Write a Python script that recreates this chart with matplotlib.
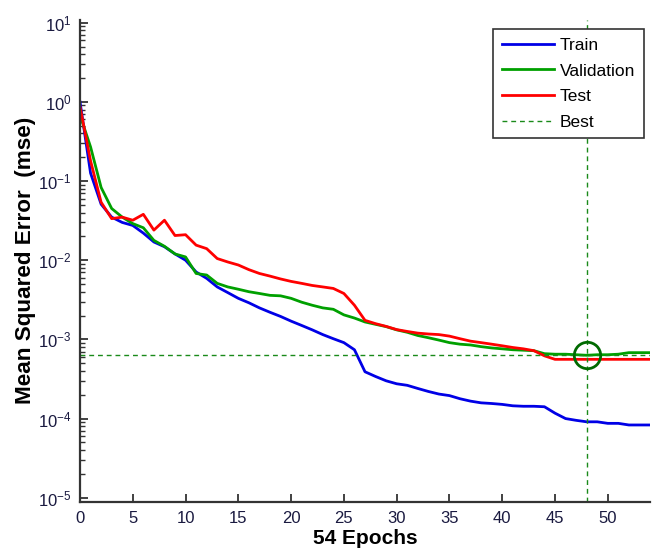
import numpy as np
import matplotlib
matplotlib.use('Agg')
import matplotlib.pyplot as plt
from matplotlib.ticker import FixedLocator, LogFormatterMathtext, NullFormatter

plt.rcParams['font.family'] = 'Liberation Sans'
plt.rcParams['mathtext.fontset'] = 'custom'
plt.rcParams['mathtext.rm'] = 'Liberation Sans'
plt.rcParams['mathtext.it'] = 'Liberation Sans:italic'
plt.rcParams['mathtext.default'] = 'regular'

# Curvas de rendimiento (mse) por época
epochs = list(range(55))

train_mse = [1.0, 0.126, 0.051, 0.035, 0.030, 0.0275, 0.022, 0.017, 0.0148, 0.012,
             0.010, 0.0071, 0.0059, 0.0046, 0.0039, 0.0033, 0.0029, 0.0025, 0.0022, 0.00195,
             0.0017, 0.0015, 0.00132, 0.00115, 0.00102, 0.00091, 0.00074, 0.00039, 0.00034, 0.00030,
             0.000275, 0.000263, 0.00024, 0.00022, 0.000204, 0.000195, 0.000178, 0.000166, 0.000158, 0.000155,
             0.000151, 0.000145, 0.000143, 0.000143, 0.000141, 0.000117, 0.0001, 0.000095, 0.000091, 0.000091,
             0.000087, 0.000087, 0.000083, 0.000083, 0.000083]

val_mse = [0.68, 0.27, 0.083, 0.045, 0.035, 0.029, 0.0257, 0.0178, 0.015, 0.012,
           0.011, 0.0068, 0.0065, 0.0051, 0.0046, 0.0043, 0.0040, 0.0038, 0.0036, 0.00355,
           0.0033, 0.00295, 0.0027, 0.0025, 0.0024, 0.00204, 0.00186, 0.00166, 0.00155, 0.00145,
           0.00132, 0.00123, 0.00112, 0.00105, 0.00098, 0.00091, 0.00087, 0.00085, 0.00081, 0.00078,
           0.00076, 0.00074, 0.00073, 0.00072, 0.00066, 0.00065, 0.00065, 0.00064, 0.00063, 0.00064,
           0.00064, 0.00065, 0.00068, 0.00068, 0.00068]

test_mse = [0.87, 0.18, 0.054, 0.0335, 0.035, 0.032, 0.038, 0.024, 0.032, 0.0205,
            0.021, 0.0155, 0.014, 0.0105, 0.0095, 0.0087, 0.0076, 0.0068, 0.0063, 0.0058,
            0.0054, 0.0051, 0.0048, 0.0046, 0.0044, 0.0038, 0.0027, 0.00174, 0.00158, 0.00146,
            0.00133, 0.00126, 0.0012, 0.00117, 0.00115, 0.0011, 0.00102, 0.00095, 0.00091, 0.00087,
            0.00083, 0.00079, 0.00076, 0.00072, 0.00062, 0.00056, 0.00056, 0.00056, 0.00056, 0.00056,
            0.00056, 0.00056, 0.00056, 0.00056, 0.00056]

best_epoch = 48
best_perf = 0.00063
x_ticks = [0, 5, 10, 15, 20, 25, 30, 35, 40, 45, 50]
y_decades = [-5, -4, -3, -2, -1, 0, 1]

fig = plt.figure(figsize=(6.57, 5.58), dpi=100)
ax = fig.add_axes([80/657, 1 - 501.7/558, 570/657, 481.7/558])

ax.plot(epochs, train_mse, color='#0000e6', lw=2, label='Train')
ax.plot(epochs, val_mse, color='#00a000', lw=2, label='Validation')
ax.plot(epochs, test_mse, color='#ff0000', lw=2, label='Test')
ax.axhline(best_perf, color='#1a8a1a', lw=1, dashes=(3.5, 2.8), label='Best')
ax.axvline(best_epoch, color='#1a8a1a', lw=1, dashes=(3.5, 2.8))
ax.plot(best_epoch, best_perf, 'o', ms=19, mfc='none', mec='#006a00', mew=2)

ax.set_yscale('log')
ax.set_xlim(0, 54)
ax.set_ylim(10**-5.05, 10**1.034)
ax.set_xticks(x_ticks)
# ticks solo dentro del rango visible
ax.yaxis.set_major_locator(FixedLocator([10.0**k for k in y_decades]))
ax.yaxis.set_major_formatter(LogFormatterMathtext())
ax.yaxis.set_minor_locator(FixedLocator([m * 10.0**k for k in y_decades[:-1] for m in range(2, 10)]))
ax.yaxis.set_minor_formatter(NullFormatter())

for s in ['top', 'right']:
    ax.spines[s].set_visible(False)
for s in ['left', 'bottom']:
    ax.spines[s].set_linewidth(1.6)
    ax.spines[s].set_color('#333333')

ax.tick_params(axis='both', which='major', direction='in', length=6, width=1.3,
               colors='#333333', labelcolor='#1a1a40', labelsize=12)
ax.tick_params(axis='x', which='major', pad=7)
ax.tick_params(axis='y', which='major', pad=6)
ax.tick_params(axis='y', which='minor', direction='in', length=3.5, width=1, colors='#333333')

ax.set_xlabel('54 Epochs', fontsize=15, fontweight='bold')
ax.set_ylabel('Mean Squared Error  (mse)', fontsize=16.2, fontweight='bold')
ax.xaxis.set_label_coords(0.5, -0.057)
ax.yaxis.set_label_coords(-0.078, 0.5)

leg = ax.legend(loc='upper right', bbox_to_anchor=(0.989, 0.981), borderaxespad=0,
                fontsize=12.5, handlelength=3.0, labelspacing=0.6, fancybox=False,
                framealpha=1, edgecolor='#333333', borderpad=0.5, handletextpad=0.35)
leg.get_frame().set_linewidth(1.2)

fig.savefig('out.png', dpi=100)
